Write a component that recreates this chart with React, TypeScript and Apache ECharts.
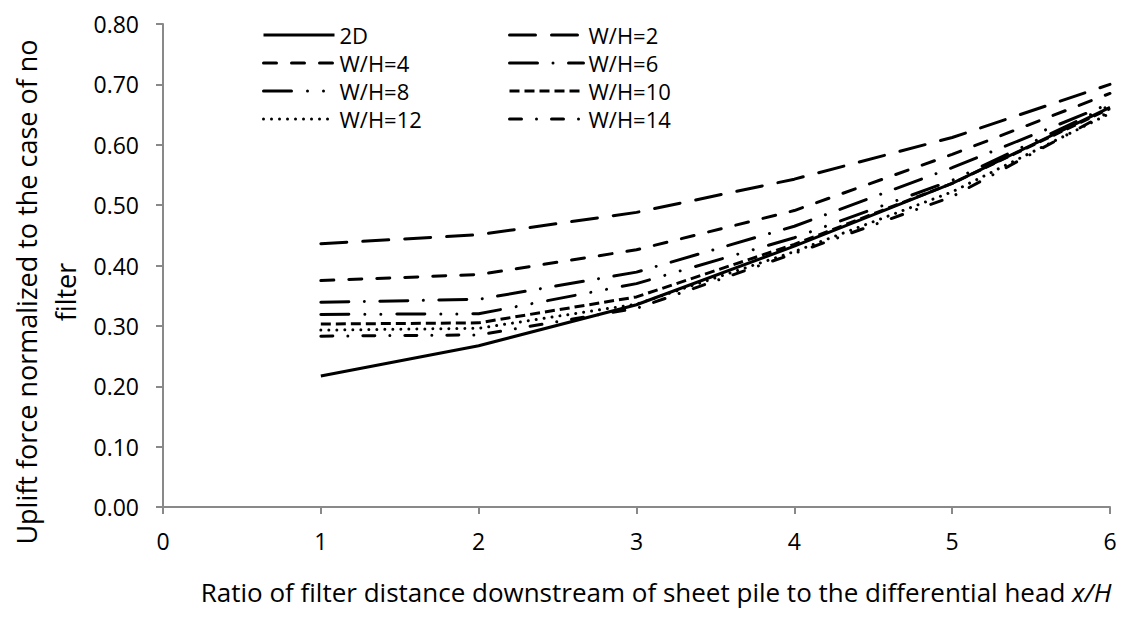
import React, { useEffect, useRef } from "react";
import * as echarts from "echarts";

const xValues = [1, 2, 3, 4, 5, 6];
const seriesNames = ["2D", "W/H=2", "W/H=4", "W/H=6", "W/H=8", "W/H=10", "W/H=12", "W/H=14"];
const v2D = [0.217, 0.267, 0.335, 0.432, 0.536, 0.662];
const vWH2 = [0.436, 0.451, 0.488, 0.543, 0.612, 0.7];
const vWH4 = [0.375, 0.385, 0.426, 0.491, 0.584, 0.685];
const vWH6 = [0.339, 0.344, 0.389, 0.465, 0.562, 0.668];
const vWH8 = [0.319, 0.32, 0.37, 0.446, 0.541, 0.665];
const vWH10 = [0.303, 0.305, 0.348, 0.435, 0.536, 0.66];
const vWH12 = [0.293, 0.296, 0.336, 0.423, 0.522, 0.652];
const vWH14 = [0.283, 0.285, 0.329, 0.42, 0.514, 0.655];
const seriesValues = [v2D, vWH2, vWH4, vWH6, vWH8, vWH10, vWH12, vWH14];

const yTitle = "Uplift force normalized to the case of no\nfilter";
const xTitle = "Ratio of filter distance downstream of sheet pile to the differential head ";
const xTitleItalic = "x/H";

const FONT = "'Open Sans', Lato, sans-serif";

const dashStyles: { type: any; cap: "round" | "butt" }[] = [
  { type: "solid", cap: "butt" },
  { type: [26, 16], cap: "round" },
  { type: [13, 15], cap: "round" },
  { type: [28, 15.5, 0.001, 15.5], cap: "round" },
  { type: [28, 16, 0.001, 16, 0.001, 16], cap: "round" },
  { type: [10, 5], cap: "butt" },
  { type: [0.001, 8], cap: "round" },
  { type: [12, 15, 0.001, 15], cap: "round" },
];

export default function App() {
  const ref = useRef<HTMLDivElement>(null);
  useEffect(() => {
    if (!ref.current) return;
    const chart = echarts.init(ref.current, undefined, { renderer: "svg" });
    const series = seriesNames.map((name, si) => ({
      name,
      type: "line",
      symbol: "none",
      data: xValues.map((x, i) => [x, seriesValues[si][i]]),
      lineStyle: {
        color: "#000",
        width: 3,
        type: dashStyles[si].type,
        cap: dashStyles[si].cap,
        join: "round",
      },
      itemStyle: { color: "#000" },
    }));
    const legendCommon = {
      orient: "vertical",
      itemHeight: 24,
      itemGap: 4,
      padding: 0,
      itemStyle: { opacity: 0 },
      lineStyle: { width: 3 },
      textStyle: { fontFamily: FONT, fontSize: 22, color: "#000", lineHeight: 24 },
      selectedMode: false,
    };
    chart.setOption({
      animation: false,
      backgroundColor: "#fff",
      grid: { left: 163, right: 13, top: 24, bottom: 110, containLabel: false },
      legend: [
        { ...legendCommon, left: 262, top: 23, itemWidth: 71, data: ["2D", "W/H=4", "W/H=8", "W/H=12"] },
        { ...legendCommon, left: 508, top: 23, itemWidth: 74, data: ["W/H=2", "W/H=6", "W/H=10", "W/H=14"] },
      ],
      xAxis: {
        type: "value",
        min: 0,
        max: 6,
        interval: 1,
        splitLine: { show: false },
        axisLine: { lineStyle: { color: "#898989", width: 2 } },
        axisTick: { show: true, inside: false, length: 7, lineStyle: { color: "#898989", width: 2 } },
        axisLabel: { fontFamily: FONT, fontSize: 23, color: "#000", margin: 22 },
      },
      yAxis: {
        type: "value",
        min: 0,
        max: 0.8,
        interval: 0.1,
        splitLine: { show: false },
        axisLine: { show: true, lineStyle: { color: "#898989", width: 2 } },
        axisTick: { show: true, inside: false, length: 7, lineStyle: { color: "#898989", width: 2 } },
        axisLabel: {
          fontFamily: FONT,
          fontSize: 23,
          color: "#000",
          margin: 24,
          formatter: (v: number) => v.toFixed(2),
        },
      },
      graphic: [
        {
          type: "text",
          x: 46,
          y: 292,
          rotation: Math.PI / 2,
          style: {
            text: yTitle,
            fontFamily: FONT,
            fontSize: 27,
            lineHeight: 39,
            fill: "#000",
            textAlign: "center",
            textVerticalAlign: "middle",
          },
        },
        {
          type: "text",
          x: 656,
          y: 592,
          style: {
            text: xTitle + "{i|" + xTitleItalic + "}",
            fontFamily: FONT,
            fontSize: 26,
            fill: "#000",
            textAlign: "center",
            textVerticalAlign: "middle",
            rich: { i: { fontStyle: "italic", fontFamily: FONT, fontSize: 26, fill: "#000" } },
          },
        },
      ],
      series,
    });
    return () => chart.dispose();
  }, []);
  return (
    <div
      ref={ref}
      style={{ position: "absolute", left: 0, top: 0, width: 1123, height: 617, background: "#fff" }}
    />
  );
}
